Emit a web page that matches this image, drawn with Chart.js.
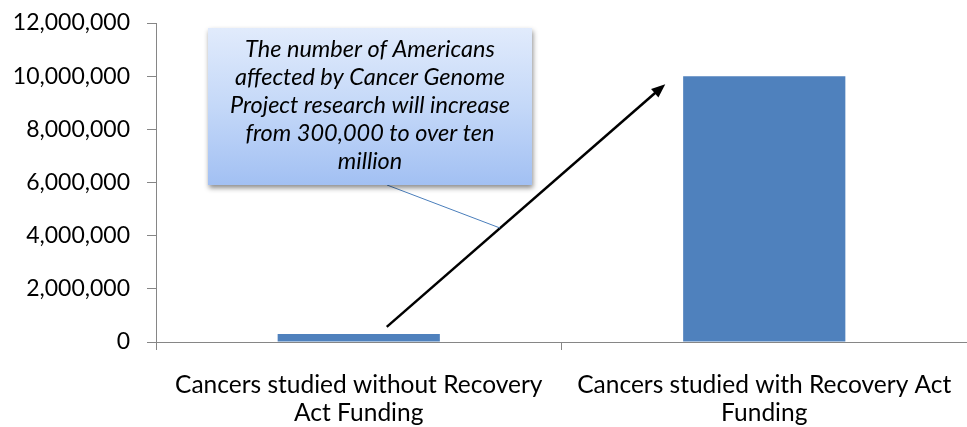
<!DOCTYPE html>
<html>
<head>
<meta charset="utf-8">
<script src="https://cdn.jsdelivr.net/npm/chart.js@4/dist/chart.umd.min.js"></script>
<style>
  html, body { margin: 0; padding: 0; background: #fff; }
  #wrap { width: 967px; height: 427px; position: relative; }
</style>
</head>
<body>
<div id="wrap"><canvas id="cancerChart"></canvas></div>
<script>
const categories = [
  ['Cancers studied without Recovery', 'Act Funding'],
  ['Cancers studied with Recovery Act', 'Funding']
];
const people = [300000, 10000000];
const yTicks = [0, 2000000, 4000000, 6000000, 8000000, 10000000, 12000000];
const calloutLines = [
  'The number of Americans',
  'affected by Cancer Genome',
  'Project research will increase',
  'from 300,000 to over ten',
  'million'
];

const FONT = 'Lato, "Open Sans", sans-serif';
const AXIS = '#868686';

// callout box + arrow, placed using the chart's own scales
const annotate = {
  id: 'annotate',
  afterDatasetsDraw(chart) {
    const { ctx, scales: { x, y }, chartArea } = chart;
    const left = chartArea.left;

    // arrow from short bar up to tall bar
    const x0 = x.getPixelForValue(0) + 28, y0 = y.getPixelForValue(570000);
    const x1 = x.getPixelForValue(1) - 99, y1 = y.getPixelForValue(9700000);
    ctx.save();
    ctx.strokeStyle = '#000';
    ctx.fillStyle = '#000';
    ctx.lineWidth = 2.5;
    const ang = Math.atan2(y1 - y0, x1 - x0);
    const head = 15;
    ctx.beginPath();
    ctx.moveTo(x0, y0);
    ctx.lineTo(x1 - Math.cos(ang) * head * 0.8, y1 - Math.sin(ang) * head * 0.8);
    ctx.stroke();
    ctx.beginPath();
    ctx.moveTo(x1, y1);
    ctx.lineTo(x1 - head * Math.cos(ang - 0.38), y1 - head * Math.sin(ang - 0.38));
    ctx.lineTo(x1 - head * Math.cos(ang + 0.38), y1 - head * Math.sin(ang + 0.38));
    ctx.closePath();
    ctx.fill();
    ctx.restore();

    // box
    const bx = left + 52, by = chartArea.top + 5, bw = 324, bh = 157;
    ctx.save();
    ctx.strokeStyle = '#4a7ebb';
    ctx.lineWidth = 1;
    ctx.beginPath();
    ctx.moveTo(bx + 179, by + bh);
    ctx.lineTo(bx + 292, by + bh + 43);
    ctx.stroke();

    const g = ctx.createLinearGradient(0, by, 0, by + bh);
    g.addColorStop(0, '#e1ebfc');
    g.addColorStop(0.5, '#c4d8f8');
    g.addColorStop(1, '#a2c0f3');
    ctx.shadowColor = 'rgba(0,0,0,0.45)';
    ctx.shadowBlur = 5;
    ctx.shadowOffsetX = 1;
    ctx.shadowOffsetY = 3;
    ctx.fillStyle = g;
    ctx.fillRect(bx, by, bw, bh);
    ctx.restore();

    ctx.save();
    ctx.fillStyle = '#000';
    ctx.font = 'italic 23.5px ' + FONT;
    ctx.textAlign = 'center';
    ctx.textBaseline = 'middle';
    calloutLines.forEach((t, i) => ctx.fillText(t, bx + bw / 2, by + 21 + i * 28));
    ctx.restore();
  }
};

new Chart(document.getElementById('cancerChart'), {
  type: 'bar',
  data: {
    labels: categories,
    datasets: [{
      data: people,
      backgroundColor: '#4f81bd',
      categoryPercentage: 1,
      barPercentage: 0.4
    }]
  },
  options: {
    responsive: true,
    maintainAspectRatio: false,
    animation: false,
    layout: { padding: { top: 23, right: -10, left: 0, bottom: 0 } },
    plugins: { legend: { display: false }, tooltip: { enabled: false } },
    scales: {
      y: {
        min: 0, max: 12000000,
        afterBuildTicks: s => { s.ticks = yTicks.map(v => ({ value: v })); },
        afterFit: s => { s.width = 156; s.paddingTop = 0; s.paddingBottom = 0; },
        border: { color: AXIS, width: 1 },
        grid: { drawOnChartArea: false, drawTicks: true, tickLength: 9, color: AXIS },
        ticks: {
          color: '#000', padding: 17,
          font: { family: FONT, size: 23 },
          callback: v => v.toLocaleString('en-US')
        }
      },
      x: {
        afterFit: s => { s.height = 85; s.paddingLeft = 0; s.paddingRight = 0; },
        border: { color: AXIS, width: 1 },
        grid: { drawOnChartArea: false, drawTicks: true, tickLength: 8, color: AXIS, offset: true },
        ticks: {
          color: '#000', padding: 21, maxRotation: 0,
          font: { family: FONT, size: 24.5, lineHeight: 1.14 }
        }
      }
    }
  },
  plugins: [annotate]
});
</script>
</body>
</html>
